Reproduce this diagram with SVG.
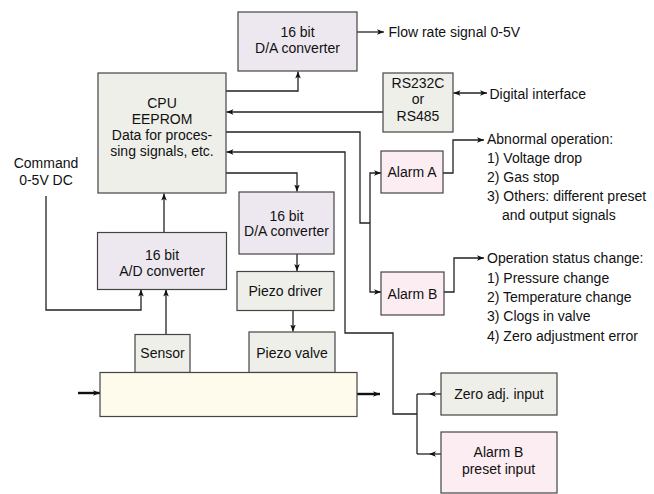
<svg xmlns="http://www.w3.org/2000/svg" width="654" height="494" viewBox="0 0 654 494">
<defs>
<style>
text{font-family:"Liberation Sans",Arial,sans-serif;font-size:14px;fill:#111}
.c{text-anchor:middle}
.box{stroke:#444;stroke-width:1.2}
.lav{fill:#EDE8F0}
.gry{fill:#EFEFEA}
.pnk{fill:#FCEDF2}
.crm{fill:#FEFBEC}
.ln{fill:none;stroke:#222;stroke-width:1.3}
.thick{fill:none;stroke:#111;stroke-width:2.4}
</style>
<marker id="ah" viewBox="0 0 10 8" refX="10" refY="4" markerWidth="7" markerHeight="5.6" markerUnits="userSpaceOnUse" orient="auto-start-reverse">
<path d="M0,0 L10,4 L0,8 L2.5,4 Z" fill="#111"/>
</marker>
<marker id="ahb" viewBox="0 0 10 8" refX="10" refY="4" markerWidth="7" markerHeight="5.6" markerUnits="userSpaceOnUse" orient="auto">
<path d="M0,0 L10,4 L0,8 L2.5,4 Z" fill="#111"/>
</marker>
</defs>
<rect width="654" height="494" fill="#fff"/>
<g id="connectors">
<path class="ln" d="M226,91 H298 V71.5" marker-end="url(#ah)"/>
<path class="ln" d="M357,32 H384" marker-end="url(#ah)"/>
<path class="ln" d="M383,112 H226.5" marker-end="url(#ah)"/>
<path class="ln" d="M453.5,93 H487" marker-start="url(#ah)" marker-end="url(#ah)"/>
<path class="ln" d="M226,132 H360 V223 H370"/>
<path class="ln" d="M370,223 V173 H381" marker-end="url(#ah)"/>
<path class="ln" d="M370,223 V292 H381" marker-end="url(#ah)"/>
<path class="ln" d="M443,173 H453 V140 H484" marker-end="url(#ah)"/>
<path class="ln" d="M444,292 H454 V258 H484" marker-end="url(#ah)"/>
<path class="ln" d="M417,414 H393 V333 H345 V152 H226.5" marker-end="url(#ah)"/>
<path class="ln" d="M417,394 V454"/>
<path class="ln" d="M441,394 H429 L417,394" marker-mid="url(#ahb)"/>
<path class="ln" d="M441,454 H429 L417,454" marker-mid="url(#ahb)"/>
<path class="ln" d="M226,173 H297 V191.5" marker-end="url(#ah)"/>
<path class="ln" d="M164,233 V193.5" marker-end="url(#ah)"/>
<path class="ln" d="M46,196 V310 H141 V289.5" marker-end="url(#ah)"/>
<path class="ln" d="M166,334 V289.5" marker-end="url(#ah)"/>
<path class="ln" d="M297,254 V271" marker-end="url(#ah)"/>
<path class="ln" d="M293,311 V331.5" marker-end="url(#ah)"/>
<path class="thick" d="M78,393 H100" marker-end="url(#ahb)"/>
<path class="thick" d="M357,394 H380" marker-end="url(#ahb)"/>
</g>
<g id="da-top">
<rect class="box lav" x="238" y="12" width="119" height="59"/>
<text class="c" x="297.5" y="36.5">16 bit</text>
<text class="c" x="297.5" y="52.5">D/A converter</text>
</g>
<g id="flow-label"><text x="388.5" y="37">Flow rate signal 0-5V</text></g>
<g id="cpu">
<rect class="box gry" x="98" y="73" width="128" height="120"/>
<text class="c" x="162" y="108">CPU</text>
<text class="c" x="162" y="124">EEPROM</text>
<text class="c" x="162" y="140">Data for proces-</text>
<text class="c" x="162" y="156">sing signals, etc.</text>
</g>
<g id="rs">
<rect class="box gry" x="383" y="73" width="70" height="59"/>
<text class="c" x="418" y="88">RS232C</text>
<text class="c" x="418" y="104">or</text>
<text class="c" x="418" y="121">RS485</text>
</g>
<g id="digital-label"><text x="489.5" y="98.5">Digital interface</text></g>
<g id="alarm-a">
<rect class="box pnk" x="381" y="151" width="62" height="42"/>
<text class="c" x="412" y="177">Alarm A</text>
</g>
<g id="abnormal-label">
<text x="487" y="143.5">Abnormal operation:</text>
<text x="487" y="162.5">1) Voltage drop</text>
<text x="487" y="181.5">2) Gas stop</text>
<text x="487" y="200.5">3) Others: different preset</text>
<text x="502" y="219.5">and output signals</text>
</g>
<g id="alarm-b">
<rect class="box pnk" x="381" y="272" width="63" height="43"/>
<text class="c" x="412.5" y="298.5">Alarm B</text>
</g>
<g id="status-label">
<text x="487" y="263">Operation status change:</text>
<text x="487" y="282.5">1) Pressure change</text>
<text x="487" y="302">2) Temperature change</text>
<text x="487" y="321">3) Clogs in valve</text>
<text x="487" y="340.5">4) Zero adjustment error</text>
</g>
<g id="command-label">
<text class="c" x="46" y="168">Command</text>
<text class="c" x="46" y="185">0-5V DC</text>
</g>
<g id="da-low">
<rect class="box lav" x="239" y="192" width="95" height="62"/>
<text class="c" x="286.5" y="221">16 bit</text>
<text class="c" x="286.5" y="236">D/A converter</text>
</g>
<g id="ad">
<rect class="box lav" x="97.5" y="232.5" width="129" height="57"/>
<text class="c" x="162" y="259.5">16 bit</text>
<text class="c" x="162" y="276">A/D converter</text>
</g>
<g id="piezo-driver">
<rect class="box gry" x="237" y="271.5" width="97" height="39"/>
<text class="c" x="285.5" y="295.5">Piezo driver</text>
</g>
<g id="sensor">
<rect class="box gry" x="135" y="334.5" width="55" height="38"/>
<text class="c" x="162.5" y="358">Sensor</text>
</g>
<g id="piezo-valve">
<rect class="box gry" x="249" y="332" width="86" height="40.5"/>
<text class="c" x="292" y="358">Piezo valve</text>
</g>
<g id="pipe">
<rect class="box crm" x="100" y="372.5" width="257" height="44"/>
</g>
<g id="zero-adj">
<rect class="box gry" x="441" y="373" width="116" height="42"/>
<text class="c" x="499" y="398.5">Zero adj. input</text>
</g>
<g id="alarm-b-preset">
<rect class="box pnk" x="441" y="432" width="116" height="61"/>
<text class="c" x="498.5" y="457">Alarm B</text>
<text class="c" x="498.5" y="473.5">preset input</text>
</g>
</svg>
